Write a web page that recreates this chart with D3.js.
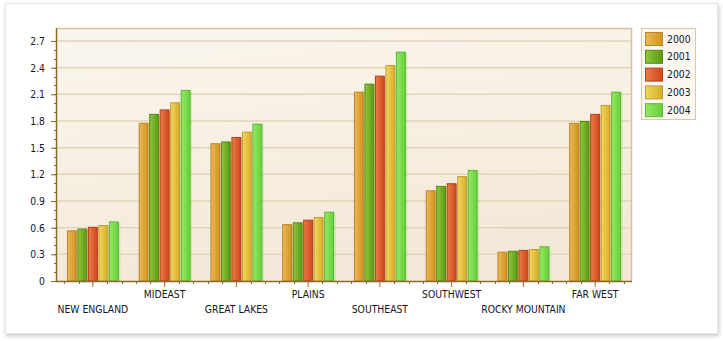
<!DOCTYPE html>
<html><head><meta charset="utf-8">
<script src="https://cdn.jsdelivr.net/npm/d3@7"></script>
<style>
html,body{margin:0;padding:0;background:#fff;}
#panel{position:absolute;left:5px;top:3px;width:711px;height:329px;background:#fff;border:1px solid #e6e6e6;box-shadow:1px 2px 4px rgba(0,0,0,0.22);}
svg{position:absolute;left:0;top:0;}
text{font-family:"DejaVu Sans Condensed","DejaVu Sans",sans-serif;font-size:10.3px;fill:#14142a;}
</style></head><body>
<div id="panel"></div>
<svg id="chart" width="723" height="341"></svg>
<script>
const categories = ["NEW ENGLAND","MIDEAST","GREAT LAKES","PLAINS","SOUTHEAST","SOUTHWEST","ROCKY MOUNTAIN","FAR WEST"];
const years = ["2000","2001","2002","2003","2004"];
const v2000 = [0.57,1.78,1.55,0.64,2.13,1.02,0.33,1.78];
const v2001 = [0.59,1.88,1.57,0.66,2.22,1.07,0.34,1.80];
const v2002 = [0.61,1.93,1.62,0.69,2.31,1.10,0.35,1.88];
const v2003 = [0.63,2.01,1.68,0.72,2.43,1.18,0.36,1.98];
const v2004 = [0.67,2.15,1.77,0.78,2.58,1.25,0.39,2.13];
const series = [v2000,v2001,v2002,v2003,v2004];
const yTicks = [0,0.3,0.6,0.9,1.2,1.5,1.8,2.1,2.4,2.7];
const yMinor = d3.range(0,28).map(i=>i/10);

const colors = [
  {l:"#ecb858",r:"#d3931e",s:"#bb872c"},
  {l:"#8ec83c",r:"#5c9812",s:"#578c18"},
  {l:"#ee7a4a",r:"#cf481a",s:"#b2421c"},
  {l:"#f2d65c",r:"#d6ae28",s:"#bc9e3e"},
  {l:"#94ea64",r:"#68cf38",s:"#5eb63e"}
];

const FONT = "'DejaVu Sans Condensed','DejaVu Sans',sans-serif";
const svg = d3.select("#chart");
const L=57, R=631, T=28, B=281;
const x = d3.scaleBand().domain(categories).range([L,R]).paddingInner(0.277).paddingOuter(0.1385);
const xi = d3.scaleBand().domain(years).range([0,x.bandwidth()]).paddingInner(0.06);
const y = d3.scaleLinear().domain([0,2.846]).range([B,T]);

const defs = svg.append("defs");
const bg = defs.append("linearGradient").attr("id","bg").attr("x1","0").attr("y1","0").attr("x2","0.3").attr("y2","1");
bg.append("stop").attr("offset","0").attr("stop-color","#faf6ee");
bg.append("stop").attr("offset","1").attr("stop-color","#f4e9d8");
colors.forEach((c,i)=>{
  const g = defs.append("linearGradient").attr("id","g"+i).attr("x1","0").attr("x2","1").attr("y1","0").attr("y2","0");
  g.append("stop").attr("offset","0").attr("stop-color",c.l);
  g.append("stop").attr("offset","1").attr("stop-color",c.r);
});

svg.append("rect").attr("x",L).attr("y",T).attr("width",R-L).attr("height",B-T).attr("fill","url(#bg)");
svg.append("g").selectAll("line").data(yTicks.filter(d=>d>0)).join("line")
  .attr("x1",L).attr("x2",R).attr("y1",d=>y(d)).attr("y2",d=>y(d))
  .attr("stroke","#e2d5ba").attr("stroke-width",1.5);
svg.append("path").attr("d",`M${L},${T+0.5}H${R+0.5}V${B}`).attr("fill","none").attr("stroke","#d6c298").attr("stroke-width",1.5);

const groups = svg.append("g").selectAll("g").data(categories).join("g")
  .attr("transform",d=>`translate(${x(d)},0)`);
years.forEach((yr,si)=>{
  groups.append("rect")
    .attr("x",(d,ci)=>xi(yr)+1.5).attr("y",(d,ci)=>y(series[si][ci])+1)
    .attr("width",xi.bandwidth()).attr("height",(d,ci)=>B-y(series[si][ci])-1)
    .attr("fill",colors[si].r).attr("opacity",0.25);
  groups.append("rect")
    .attr("x",(d,ci)=>xi(yr)+0.5).attr("y",(d,ci)=>y(series[si][ci])+0.5)
    .attr("width",xi.bandwidth()-1).attr("height",(d,ci)=>B-y(series[si][ci])-0.5)
    .attr("fill","url(#g"+si+")").attr("stroke",colors[si].s).attr("stroke-width",1);
});

const yAxis = d3.axisLeft(y).tickValues(yTicks).tickSize(6).tickFormat(d=>d===0?"0":d3.format(".1f")(d));
const ya = svg.append("g").attr("transform",`translate(${L},0)`).call(yAxis);
ya.select(".domain").remove();
ya.selectAll("line").attr("stroke","#8a6a28").attr("stroke-width",1);
ya.selectAll("text").attr("x",-12).attr("dy","0.35em").style("font-family",FONT).style("font-size","10.3px").attr("fill","#14142a");
svg.append("g").selectAll("line").data(yMinor).join("line")
  .attr("x1",L-3).attr("x2",L).attr("y1",d=>Math.round(y(d))+0.5).attr("y2",d=>Math.round(y(d))+0.5)
  .attr("stroke","#8a6a28");
svg.append("line").attr("x1",L-0.5).attr("x2",L-0.5).attr("y1",T).attr("y2",B+1).attr("stroke","#8a6a28").attr("stroke-width",1.5);

const xAxis = d3.axisBottom(x).tickSize(6).tickSizeOuter(0);
const xa = svg.append("g").attr("transform",`translate(0,${B})`).call(xAxis);
xa.select(".domain").remove();
xa.selectAll("line").attr("stroke","#8a6a28");
xa.selectAll("text").attr("y",(d,i)=>i%2===0?25:10)
  .style("font-family",FONT).style("font-size","10.3px").attr("fill","#14142a");
const step = x.step();
const minor = [];
categories.forEach(c=>{ for(let k=-2;k<=2;k++){ if(k!==0) minor.push(x(c)+x.bandwidth()/2+k*step/5);} });
svg.append("g").selectAll("line").data(minor.filter(v=>v>L&&v<R)).join("line")
  .attr("x1",d=>Math.round(d)+0.5).attr("x2",d=>Math.round(d)+0.5).attr("y1",B).attr("y2",B+3).attr("stroke","#8a6a28");
svg.append("line").attr("x1",L-1).attr("x2",R+1).attr("y1",B+0.5).attr("y2",B+0.5).attr("stroke","#8a6a28").attr("stroke-width",1.5);

const lg = svg.append("g");
lg.append("rect").attr("x",641.5).attr("y",28.5).attr("width",54).attr("height",91).attr("fill","#fcf8f1").attr("stroke","#d9c9a5");
const li = lg.selectAll("g").data(years).join("g").attr("transform",(d,i)=>`translate(645,${32+i*17.8})`);
li.append("rect").attr("x",0.5).attr("y",0.5).attr("width",17).attr("height",13)
  .attr("fill",(d,i)=>"url(#g"+i+")").attr("stroke",(d,i)=>colors[i].s);
li.append("text").attr("x",22).attr("y",10.5).text(d=>d);
</script>
</body></html>
